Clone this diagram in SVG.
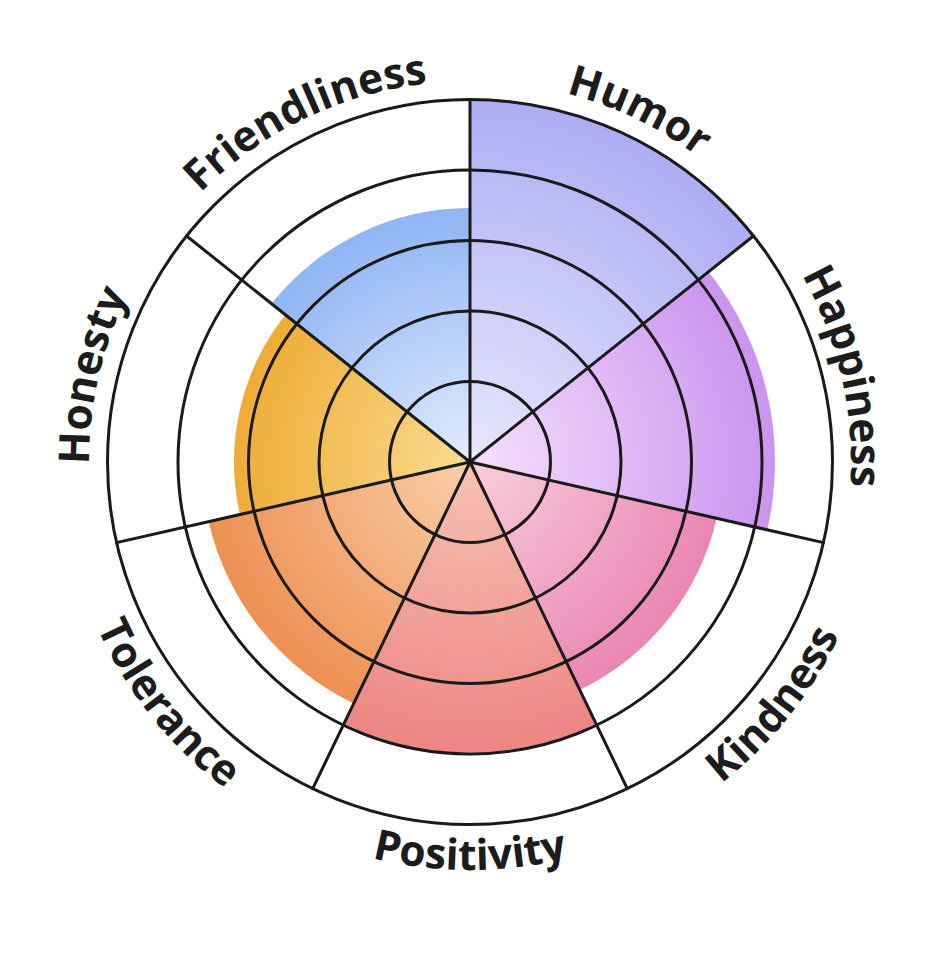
<svg xmlns="http://www.w3.org/2000/svg" width="948" height="959" viewBox="0 0 948 959">
<style>
.ring{fill:none;stroke:#1a1a1a;stroke-width:3}
.div{stroke:#1a1a1a;stroke-width:3;stroke-linecap:round}
.lbl{font-family:"Open Sans","Noto Sans","DejaVu Sans",sans-serif;font-weight:700;font-size:42.5px;fill:#1c1c1c}
</style>
<defs>
<radialGradient id="gHumor" gradientUnits="userSpaceOnUse" cx="470" cy="462" r="362.5"><stop offset="0" stop-color="#e8e8fd"/><stop offset="1" stop-color="#adadf5"/></radialGradient>
<radialGradient id="gHapp" gradientUnits="userSpaceOnUse" cx="470" cy="462" r="305"><stop offset="0" stop-color="#f6e0fc"/><stop offset="1" stop-color="#ca94ee"/></radialGradient>
<radialGradient id="gKind" gradientUnits="userSpaceOnUse" cx="470" cy="462" r="253"><stop offset="0" stop-color="#f8cfdc"/><stop offset="1" stop-color="#ea86b3"/></radialGradient>
<radialGradient id="gPos" gradientUnits="userSpaceOnUse" cx="470" cy="462" r="290"><stop offset="0" stop-color="#f5c3b2"/><stop offset="1" stop-color="#ee8682"/></radialGradient>
<radialGradient id="gTol" gradientUnits="userSpaceOnUse" cx="470" cy="462" r="268"><stop offset="0" stop-color="#f8cfa8"/><stop offset="1" stop-color="#ee9053"/></radialGradient>
<radialGradient id="gHon" gradientUnits="userSpaceOnUse" cx="470" cy="462" r="236"><stop offset="0" stop-color="#fadc90"/><stop offset="1" stop-color="#eeac36"/></radialGradient>
<radialGradient id="gFri" gradientUnits="userSpaceOnUse" cx="470" cy="462" r="254"><stop offset="0" stop-color="#e2ecfd"/><stop offset="1" stop-color="#8fb5f3"/></radialGradient>
<path id="pHumor" d="M255.38,147.20 A381,381 0 0 1 849.93,433.53"/>
<path id="pHapp" d="M582.30,97.93 A381,381 0 0 1 729.14,741.29"/>
<path id="pHon" d="M210.86,741.29 A381,381 0 0 1 357.70,97.93"/>
<path id="pFri" d="M90.07,433.53 A381,381 0 0 1 684.62,147.20"/>
<path id="pKind" d="M409.19,865.44 A408,408 0 0 0 849.80,312.94"/>
<path id="pPos" d="M116.66,666 A408,408 0 0 0 823.34,666"/>
<path id="pTol" d="M90.20,312.94 A408,408 0 0 0 530.81,865.44"/>
</defs>
<rect width="948" height="959" fill="#ffffff"/>
<g id="sectors">
<path id="s-humor" d="M470,462 L470,99.5 A362.5,362.5 0 0 1 753.41,235.98 Z" fill="url(#gHumor)"/>
<path id="s-happiness" d="M470,462 L708.46,271.84 A305,305 0 0 1 767.35,529.87 Z" fill="url(#gHapp)"/>
<path id="s-kindness" d="M470,462 L716.66,518.30 A253,253 0 0 1 579.77,689.95 Z" fill="url(#gKind)"/>
<path id="s-positivity" d="M470,462 L595.83,723.69 A290,290 0 0 1 344.17,723.69 Z" fill="url(#gPos)"/>
<path id="s-tolerance" d="M470,462 L353.72,703.46 A268,268 0 0 1 208.72,521.64 Z" fill="url(#gTol)"/>
<path id="s-honesty" d="M470,462 L239.92,514.51 A236,236 0 0 1 285.49,314.86 Z" fill="url(#gHon)"/>
<path id="s-friendliness" d="M470,462 L271.41,303.63 A254,254 0 0 1 470,208 Z" fill="url(#gFri)"/>
</g>
<g id="rings">
<circle class="ring" cx="470" cy="462" r="80.5"/>
<circle class="ring" cx="470" cy="462" r="151"/>
<circle class="ring" cx="470" cy="462" r="221.5"/>
<circle class="ring" cx="470" cy="462" r="292"/>
<circle class="ring" cx="470" cy="462" r="362.5"/>
</g>
<g id="connectors">
<line class="div" x1="470" y1="462" x2="470" y2="99.5"/>
<line class="div" x1="470" y1="462" x2="753.41" y2="235.98"/>
<line class="div" x1="470" y1="462" x2="823.41" y2="542.66"/>
<line class="div" x1="470" y1="462" x2="627.28" y2="788.60"/>
<line class="div" x1="470" y1="462" x2="312.72" y2="788.60"/>
<line class="div" x1="470" y1="462" x2="116.59" y2="542.66"/>
<line class="div" x1="470" y1="462" x2="186.59" y2="235.98"/>
</g>
<g id="labels">
<g id="n-humor"><text class="lbl"><textPath href="#pHumor" startOffset="50%" text-anchor="middle">Humor</textPath></text></g>
<g id="n-happiness"><text class="lbl"><textPath href="#pHapp" startOffset="50%" text-anchor="middle">Happiness</textPath></text></g>
<g id="n-kindness"><text class="lbl"><textPath href="#pKind" startOffset="50%" text-anchor="middle">Kindness</textPath></text></g>
<g id="n-positivity"><text class="lbl"><textPath href="#pPos" startOffset="50%" text-anchor="middle">Positivity</textPath></text></g>
<g id="n-tolerance"><text class="lbl"><textPath href="#pTol" startOffset="50%" text-anchor="middle">Tolerance</textPath></text></g>
<g id="n-honesty"><text class="lbl"><textPath href="#pHon" startOffset="50%" text-anchor="middle">Honesty</textPath></text></g>
<g id="n-friendliness"><text class="lbl"><textPath href="#pFri" startOffset="50%" text-anchor="middle">Friendliness</textPath></text></g>
</g>
</svg>
